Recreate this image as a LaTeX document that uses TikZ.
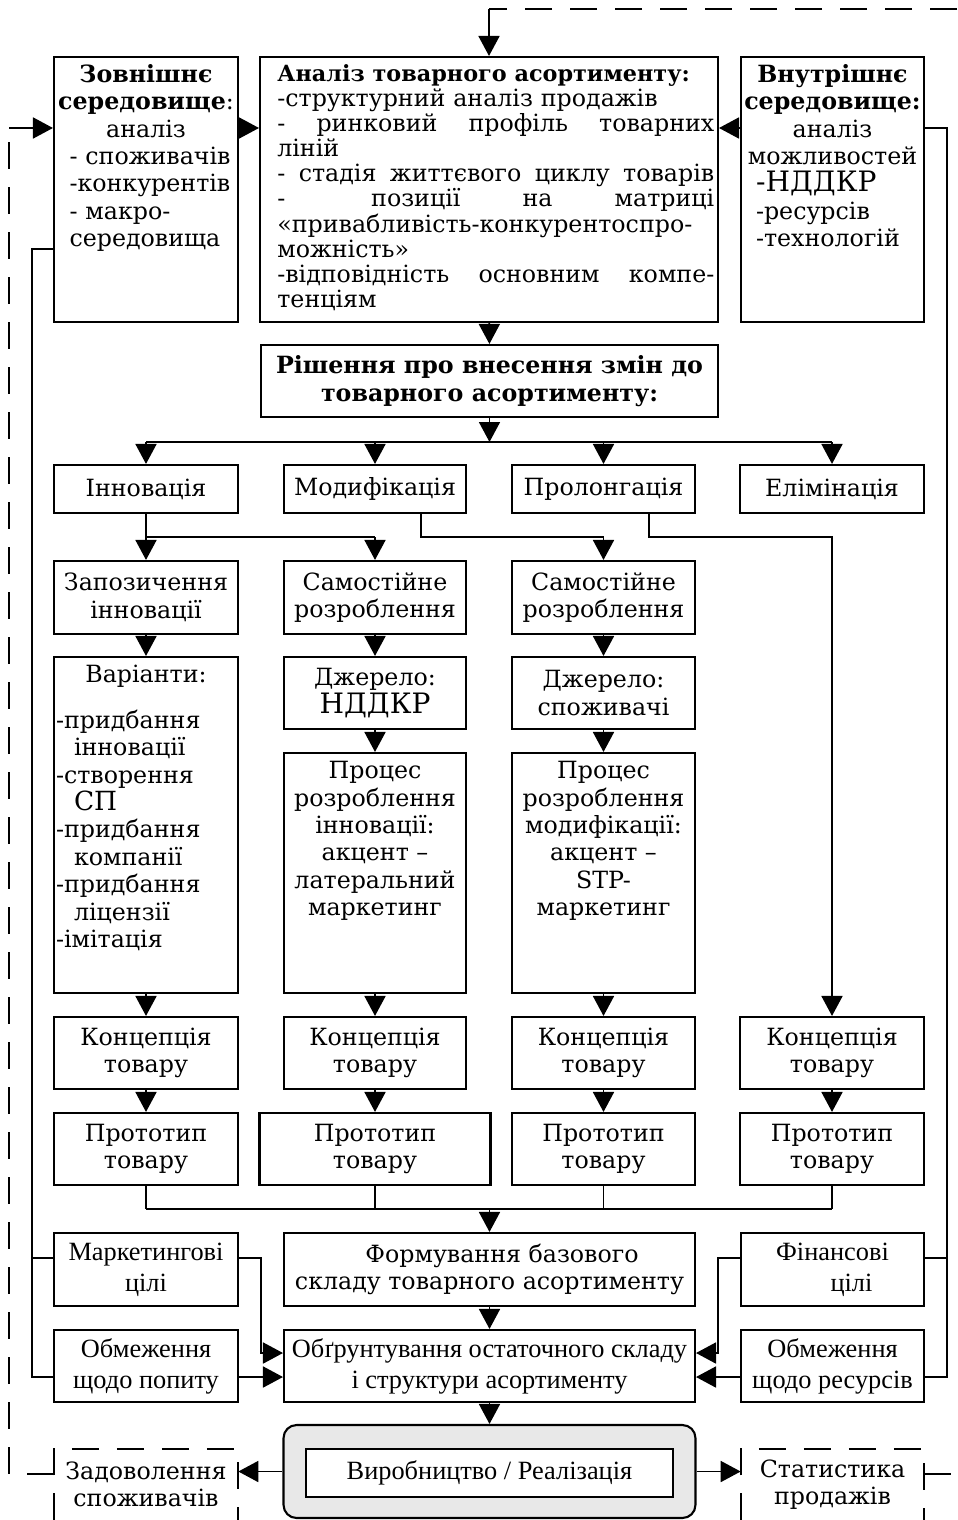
\documentclass[tikz,border=0pt]{standalone}
\usepackage{fontspec}
\setmainfont{DejaVu Serif}
\newfontfamily\timesf{Liberation Serif}
\usetikzlibrary{arrows.meta}

\definecolor{prodgray}{HTML}{E8E8E8}
\newcommand{\ctrline}[1]{\leavevmode\hbox to \hsize{\hss#1\hss}}
\newcommand{\fullline}[1]{\leavevmode\hbox to \hsize{\spaceskip=0.3333em plus 1fil\relax #1}}

\tikzset{
  box/.style={draw, line width=1.2pt, inner sep=0pt, align=center,
    font=\fontsize{13.5}{15.6}\selectfont},
  tbox/.style={box, font=\timesf\fontsize{15}{17.6}\selectfont},
  txt/.style={inner sep=0pt, font=\fontsize{13.5}{15.6}\selectfont},
  conn/.style={line width=1pt},
  arr/.style={line width=1pt, -{Triangle[length=0.4cm,width=0.42cm]}},
  fbline/.style={line width=1pt, dash pattern=on 0.54cm off 0.36cm},
}

\begin{document}
\begin{tikzpicture}[x=0.02cm, y=-0.02cm]
    \useasboundingbox (0,0) rectangle (957,1520);

    %% Top row
    % External environment
    \node[box, minimum width=3.68cm, minimum height=5.3cm] (zovn) at (146,189.5) {};
    \node[txt, anchor=north, text width=3.5cm, align=left] (zovnT) at ([yshift=-0.16cm]zovn.north) {%
      \ctrline{\textbf{Зовнішнє}}\\
      \ctrline{\textbf{середовище}:}\\
      \ctrline{аналіз}\\
      \hspace*{0.22cm}- споживачів\\
      \hspace*{0.22cm}-конкурентів\\
      \hspace*{0.22cm}- макро-\\
      \hspace*{0.22cm}середовища};

    % Assortment analysis
    \node[box, minimum width=9.16cm, minimum height=5.3cm] (analiz) at (489,189.5) {};
    \node[txt, anchor=north west, text width=8.74cm, align=left,
      font=\fontsize{13.5}{14.3}\selectfont] (analizT) at ([xshift=0.36cm,yshift=-0.16cm]analiz.north west) {%
      {\fontsize{12.7}{14.3}\selectfont\bfseries Аналіз товарного асортименту:}\\
      -структурний аналіз продажів\\
      \fullline{- ринковий профіль товарних}\\
      ліній\\
      \fullline{- стадія життєвого циклу товарів}\\
      \fullline{- \hspace{2em} позиції \hspace{1em} на \hspace{1em} матриці}\\
      «привабливість-конкурентоспро-\\
      можність»\\
      \fullline{-відповідність основним компе-}\\
      тенціям};

    % Internal environment
    \node[box, minimum width=3.66cm, minimum height=5.3cm] (vnutr) at (832.5,189.5) {};
    \node[txt, anchor=north, text width=3.5cm, align=left] (vnutrT) at ([yshift=-0.16cm]vnutr.north) {%
      \ctrline{\textbf{Внутрішнє}}\\
      \ctrline{\textbf{середовище:}}\\
      \ctrline{аналіз}\\
      \ctrline{можливостей}\\
      \hspace*{0.22cm}{\fontsize{16}{15.6}\selectfont -НДДКР}\\
      \hspace*{0.22cm}-ресурсів\\
      \hspace*{0.22cm}-технологій};

    % Decision
    \node[box, minimum width=9.14cm, minimum height=1.44cm,
      font=\bfseries\fontsize{13.5}{16}\selectfont] (rishennia) at (489.5,381) {Рішення про внесення змін до\\товарного асортименту:};

    %% Kinds of change
    \node[box, minimum width=3.68cm, minimum height=0.96cm] (innov) at (146,489) {Інновація};
    \node[box, minimum width=3.64cm, minimum height=0.96cm] (modyf) at (375,489) {Модифікація};
    \node[box, minimum width=3.66cm, minimum height=0.96cm] (prolong) at (603.5,489) {Пролонгація};
    \node[box, minimum width=3.68cm, minimum height=0.96cm] (elim) at (832,489) {Елімінація};

    % Sources of development
    \node[box, minimum width=3.68cm, minimum height=1.46cm] (zapoz) at (146,597.5) {Запозичення\\інновації};
    \node[box, minimum width=3.64cm, minimum height=1.46cm] (samost1) at (375,597.5) {Самостійне\\розроблення};
    \node[box, minimum width=3.66cm, minimum height=1.46cm] (samost2) at (603.5,597.5) {Самостійне\\розроблення};

    % Variants of borrowing
    \node[box, minimum width=3.68cm, minimum height=6.72cm] (variant) at (146,825) {};
    \node[txt, anchor=north, text width=3.6cm, align=left] (variantT) at ([yshift=-0.18cm]variant.north) {%
      \ctrline{Варіанти:}\\[0.36cm]
      -придбання\\
      \hspace*{0.36cm}інновації\\
      -створення\\
      \hspace*{0.36cm}{\fontsize{15}{15.6}\selectfont СП}\\
      -придбання\\
      \hspace*{0.36cm}компанії\\
      -придбання\\
      \hspace*{0.36cm}ліцензії\\
      -імітація};

    % Sources and processes
    \node[box, minimum width=3.64cm, minimum height=1.44cm] (dzherelo1) at (375,693) {Джерело:\\{\fontsize{16}{15.6}\selectfont НДДКР}};
    \node[box, minimum width=3.66cm, minimum height=1.44cm] (dzherelo2) at (603.5,693) {Джерело:\\споживачі};
    \node[box, minimum width=3.64cm, minimum height=4.8cm] (proces1) at (375,873) {};
    \node[txt, anchor=north, align=center] (proces1T) at ([yshift=-0.18cm]proces1.north) {%
      Процес\\розроблення\\інновації:\\акцент –\\латеральний\\маркетинг};
    \node[box, minimum width=3.66cm, minimum height=4.8cm] (proces2) at (603.5,873) {};
    \node[txt, anchor=north, align=center] (proces2T) at ([yshift=-0.18cm]proces2.north) {%
      Процес\\розроблення\\модифікації:\\акцент –\\STP-\\маркетинг};

    % Concepts and prototypes
    \node[box, minimum width=3.68cm, minimum height=1.44cm] (konc1) at (146,1053) {Концепція\\товару};
    \node[box, minimum width=3.64cm, minimum height=1.44cm] (konc2) at (375,1053) {Концепція\\товару};
    \node[box, minimum width=3.66cm, minimum height=1.44cm] (konc3) at (603.5,1053) {Концепція\\товару};
    \node[box, minimum width=3.68cm, minimum height=1.44cm] (konc4) at (832,1053) {Концепція\\товару};
    \node[box, minimum width=3.68cm, minimum height=1.44cm] (proto1) at (146,1149) {Прототип\\товару};
    \node[box, minimum width=4.62cm, minimum height=1.44cm] (proto2) at (375,1149) {Прототип\\товару};
    \node[box, minimum width=3.66cm, minimum height=1.44cm] (proto3) at (603.5,1149) {Прототип\\товару};
    \node[box, minimum width=3.68cm, minimum height=1.44cm] (proto4) at (832,1149) {Прототип\\товару};

    %% Base assortment and its limits
    \node[tbox, minimum width=3.68cm, minimum height=1.46cm] (marketing) at (146,1269.5) {Маркетингові\\цілі};
    \node[box, minimum width=8.22cm, minimum height=1.46cm] (formuv) at (489.5,1269.5) {\hspace*{0.5cm}Формування базового\\складу товарного асортименту};
    \node[tbox, minimum width=3.66cm, minimum height=1.46cm] (finans) at (832.5,1269.5) {Фінансові\\\hspace*{0.76cm}цілі};
    \node[tbox, minimum width=3.68cm, minimum height=1.44cm] (obmpopyt) at (146,1366) {Обмеження\\щодо попиту};
    \node[tbox, minimum width=8.22cm, minimum height=1.44cm] (obgrunt) at (489.5,1366) {Обґрунтування остаточного складу\\і структури асортименту};
    \node[tbox, minimum width=3.66cm, minimum height=1.44cm] (obmres) at (832.5,1366) {Обмеження\\щодо ресурсів};

    % Production / sales
    \node[draw, line width=1.2pt, rounded corners=0.26cm, fill=prodgray,
      minimum width=8.24cm, minimum height=1.86cm] (prod) at (489.5,1471.5) {};
    \node[tbox, fill=white, minimum width=7.34cm, minimum height=0.96cm] (vyrob) at (489.5,1473) {Виробництво / Реалізація};

    % Feedback boxes
    \node[txt, align=center, minimum width=3.68cm, minimum height=1.42cm] (zadov) at (146,1484.5) {Задоволення\\споживачів};
    \node[txt, align=center, minimum width=3.66cm, minimum height=1.42cm] (statyst) at (832.5,1484.5) {Статистика\\продажів};
    \draw[fbline] (zadov.south west) -- (zadov.north west) -- (zadov.north east) -- (zadov.south east);
    \draw[fbline] (statyst.south west) -- (statyst.north west) -- (statyst.north east) -- (statyst.south east);

    %% Connectors
    \coordinate (lc1) at (32,249);
    \coordinate (lc2) at (32,1258);
    \coordinate (lc3) at (32,1377);
    \coordinate (rc1) at (947,128);
    \coordinate (rc2) at (947,1258);
    \coordinate (rc3) at (947,1377);

    % Into the analysis
    \draw[arr] (rc1 -| zovn.east) -- (rc1 -| analiz.west);
    \draw[arr] (rc1 -| vnutr.west) -- (rc1 -| analiz.east);
    \draw[arr] (analiz) -- (rishennia);

    % Branching of the decision
    \coordinate (bar) at (489.5,442);
    \draw[arr] (rishennia.south) -- (bar);
    \draw[conn] (bar -| innov.north) -- (bar -| elim.north);
    \foreach \n in {innov,modyf,prolong,elim}
      \draw[arr] (bar -| \n.north) -- (\n.north);

    % Innovation, modification, prolongation
    \coordinate (sp) at (0,537);
    \draw[conn] (innov.south) -- (sp -| innov.south) -- (sp -| samost1.north);
    \draw[arr] (sp -| zapoz.north) -- (zapoz.north);
    \draw[arr] (sp -| samost1.north) -- (samost1.north);
    \draw[arr] ([xshift=0.92cm]modyf.south) |- (sp -| samost2.north) -- (samost2.north);
    \draw[arr] ([xshift=0.91cm]prolong.south) |- (sp -| konc4.north) -- (konc4.north);

    % Columns
    \draw[arr] (zapoz) -- (variant);
    \draw[arr] (variant) -- (konc1);
    \draw[arr] (samost1) -- (dzherelo1);
    \draw[arr] (dzherelo1) -- (proces1);
    \draw[arr] (proces1) -- (konc2);
    \draw[arr] (samost2) -- (dzherelo2);
    \draw[arr] (dzherelo2) -- (proces2);
    \draw[arr] (proces2) -- (konc3);
    \foreach \i in {1,...,4}
      \draw[arr] (konc\i) -- (proto\i);

    % Joining the prototypes
    \coordinate (jn) at (489.5,1209);
    \foreach \i in {1,...,4}
      \draw[conn] (proto\i.south) -- (jn -| proto\i.south);
    \draw[conn] (jn -| proto1.south) -- (jn -| proto4.south);
    \draw[arr] (jn) -- (formuv.north);
    \draw[arr] (formuv) -- (obgrunt);
    \draw[arr] (obgrunt) -- (prod);

    % Goals and limits
    \draw[conn] (lc1 -| zovn.west) -- (lc1) -- (lc3) -- (lc3 -| obmpopyt.west);
    \draw[conn] (lc2) -- (lc2 -| marketing.west);
    \draw[conn] (rc1 -| vnutr.east) -- (rc1) -- (rc3) -- (rc3 -| obmres.east);
    \draw[conn] (rc2) -- (rc2 -| finans.east);
    \coordinate (mk) at (261,1353);
    \coordinate (fn) at (718,1353);
    \draw[arr] (lc2 -| marketing.east) -| (mk) -- (mk -| obgrunt.west);
    \draw[arr] (lc3 -| obmpopyt.east) -- (lc3 -| obgrunt.west);
    \draw[arr] (rc2 -| finans.west) -| (fn) -- (fn -| obgrunt.east);
    \draw[arr] (rc3 -| obmres.west) -- (rc3 -| obgrunt.east);

    % Production out
    \draw[arr] (prod.west) -- (prod.west -| zadov.east);
    \draw[arr] (prod.east) -- (prod.east -| statyst.west);

    % Feedback (dashed)
    \coordinate (lb) at (9,1474);
    \coordinate (lt) at (9,128);
    \coordinate (tr) at (957,9);
    \coordinate (tl) at (489,9);
    \coordinate (rb) at (957,1474);
    \draw[fbline] (lb -| zadov.west) -- (lb) -- (lt);
    \draw[arr] (lt) -- (lt -| zovn.west);
    \draw[fbline] (tr) -- (tl);
    \draw[arr] (tl) -- (tl |- analiz.north);
    \draw[fbline] (rb -| statyst.east) -- (rb);

\end{tikzpicture}
\end{document}
